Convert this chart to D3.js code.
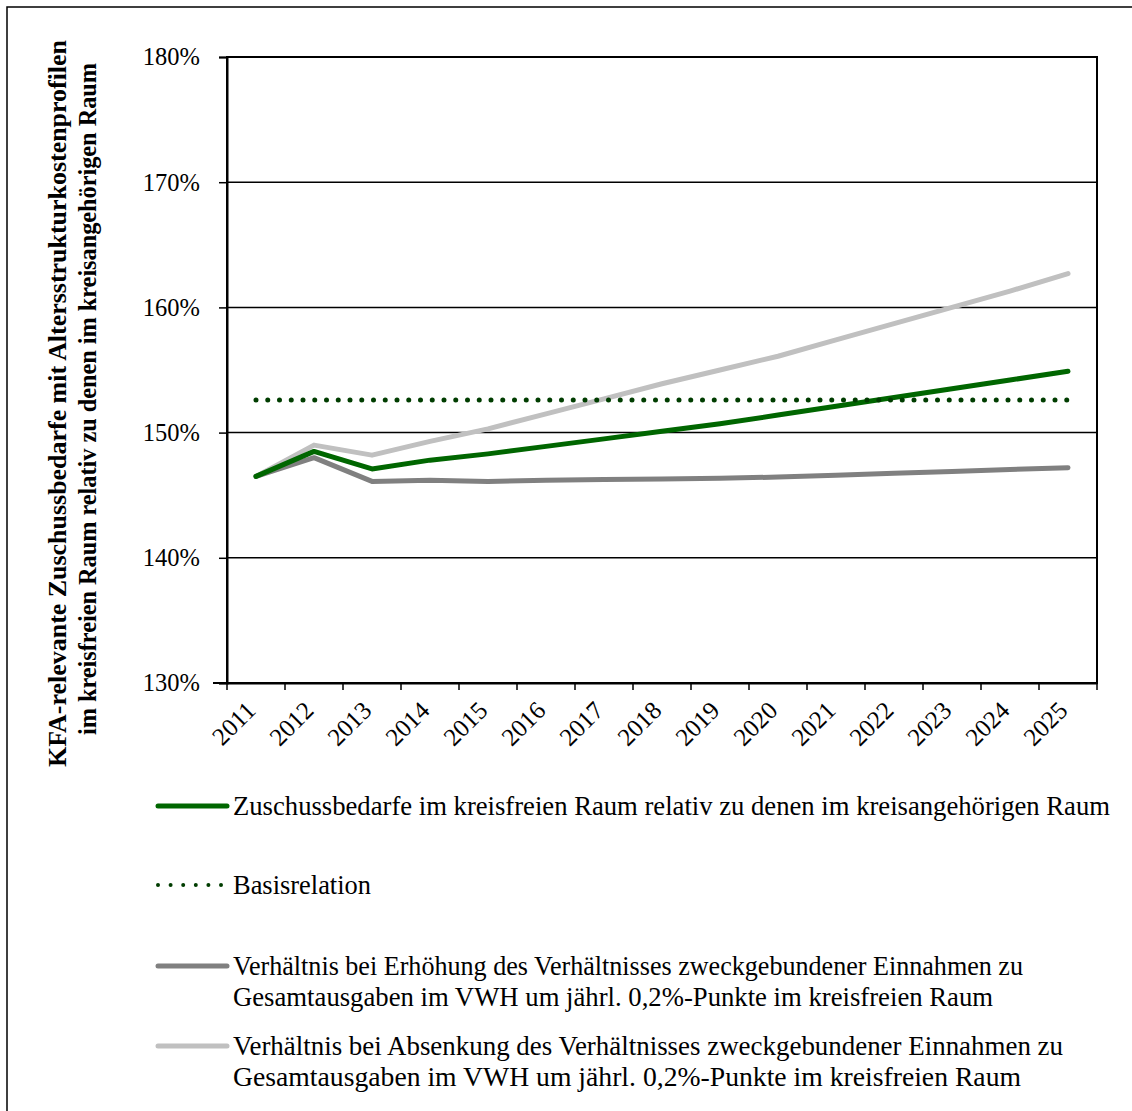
<!DOCTYPE html>
<html><head><meta charset="utf-8">
<script src="https://cdn.jsdelivr.net/npm/d3@7"></script>
<style>
body{margin:0;background:#fff;}
svg{display:block;}
text{font-family:"Liberation Serif","Times New Roman",serif;fill:#000;}
</style></head>
<body>
<svg id="c" width="1132" height="1111"></svg>
<script>
const years = ["2011","2012","2013","2014","2015","2016","2017","2018","2019","2020","2021","2022","2023","2024","2025"];
const zuschuss = [146.5,148.5,147.1,147.8,148.3,148.9,149.5,150.1,150.7,151.4,152.1,152.8,153.5,154.2,154.9];
const basis = [152.6,152.6,152.6,152.6,152.6,152.6,152.6,152.6,152.6,152.6,152.6,152.6,152.6,152.6,152.6];
const erhoehung = [146.5,148.0,146.1,146.2,146.1,146.2,146.25,146.3,146.35,146.45,146.6,146.75,146.9,147.05,147.2];
const absenkung = [146.5,149.0,148.2,149.3,150.3,151.5,152.7,153.9,155.0,156.1,157.4,158.7,160.0,161.3,162.7];
const yTicks = [130,140,150,160,170,180];
const yTitle = ["KFA-relevante Zuschussbedarfe mit Altersstrukturkostenprofilen","im kreisfreien Raum relativ zu denen im kreisangehörigen Raum"];
const legendLabels = [
  ["Zuschussbedarfe im kreisfreien Raum relativ zu denen im kreisangehörigen Raum"],
  ["Basisrelation"],
  ["Verhältnis bei Erhöhung des Verhältnisses zweckgebundener Einnahmen zu","Gesamtausgaben im VWH um jährl. 0,2%-Punkte im kreisfreien Raum"],
  ["Verhältnis bei Absenkung des Verhältnisses zweckgebundener Einnahmen zu","Gesamtausgaben im VWH um jährl. 0,2%-Punkte im kreisfreien Raum"]
];
const legendWidths = [[877],[138],[790,760],[830,788]];

const svg = d3.select("#c");
const L=227, R=1097, T=57, B=683;
const x = d3.scaleBand().domain(years).range([L,R]);
const y = d3.scaleLinear().domain([130,180]).range([B,T]);

// outer frame
svg.append("rect").attr("x",7).attr("y",7).attr("width",1140).attr("height",1120)
  .attr("fill","none").attr("stroke","#000").attr("stroke-width",1.5);

// gridlines
svg.append("g").selectAll("line").data(yTicks.filter(d=>d>130 && d<180)).join("line")
  .attr("x1",L).attr("x2",R).attr("y1",d=>y(d)).attr("y2",d=>y(d))
  .attr("stroke","#000").attr("stroke-width",1.5);

// plot border (top & right)
svg.append("rect").attr("x",L).attr("y",T).attr("width",R-L).attr("height",B-T)
  .attr("fill","none").attr("stroke","#000").attr("stroke-width",2);

// y axis
const yAxis = d3.axisLeft(y).tickValues(yTicks).tickFormat(d=>d+"%").tickSizeOuter(0).tickSize(8).tickPadding(19);
const gy = svg.append("g").attr("transform",`translate(${L},0)`).call(yAxis);
gy.select(".domain").attr("stroke-width",2);
gy.selectAll(".tick line").attr("stroke-width",1.5);
gy.selectAll("text").attr("font-size",24.5).attr("font-family","Liberation Serif");

// x axis
const xAxis = d3.axisBottom(x).tickSize(0).tickSizeOuter(0);
const gx = svg.append("g").attr("transform",`translate(0,${B})`).call(xAxis);
gx.select(".domain").attr("stroke-width",2);
gx.selectAll(".tick text").attr("font-size",25).attr("font-family","Liberation Serif")
  .attr("text-anchor","end").attr("dy",0).attr("y",0)
  .attr("transform","translate(1,29) rotate(-45)");
// boundary ticks
svg.append("g").selectAll("line").data(years.concat(["end"])).join("line")
  .attr("x1",(d,i)=>L+i*x.step()).attr("x2",(d,i)=>L+i*x.step())
  .attr("y1",B).attr("y2",B+7).attr("stroke","#000").attr("stroke-width",1.5);
svg.append("line").attr("x1",L-14).attr("x2",L).attr("y1",B).attr("y2",B).attr("stroke","#000").attr("stroke-width",2);

const cx = d => x(d)+x.bandwidth()/2;
const line = d3.line().x((d,i)=>cx(years[i])).y(d=>y(d));

const series = [
  {data:absenkung, color:"#c0c0c0", w:5, dash:null},
  {data:erhoehung, color:"#808080", w:5, dash:null},
  {data:zuschuss, color:"#006600", w:5, dash:null},
  {data:basis, color:"#003d00", w:5, dash:"0 11.75"}
];
series.forEach(s=>{
  svg.append("path").datum(s.data).attr("d",line).attr("fill","none")
    .attr("stroke",s.color).attr("stroke-width",s.w).attr("stroke-linecap","round")
    .attr("stroke-linejoin","round").attr("stroke-dasharray",s.dash);
});

// y title
const yt = svg.append("text").attr("font-weight","bold").attr("font-size",25).attr("text-anchor","middle");
yt.append("tspan").attr("transform",null);
yt.remove();
[[yTitle[0],66,403.5,727],[yTitle[1],96,399,672]].forEach(([txt,xx,yy,len])=>{
  svg.append("text").attr("transform",`translate(${xx},${yy}) rotate(-90)`)
    .attr("text-anchor","middle").attr("font-weight","bold").attr("font-size",25)
    .attr("textLength",len).attr("lengthAdjust","spacingAndGlyphs").text(txt);
});

// legend
const legY = [806,885,966,1046];
const legStyle = [series[2],series[3],series[1],series[0]];
legendLabels.forEach((lab,i)=>{
  const s = legStyle[i];
  svg.append("line").attr("x1",158).attr("x2",i===1?222:227).attr("y1",legY[i]).attr("y2",legY[i])
    .attr("stroke",s.color).attr("stroke-width",i===1?4:5).attr("stroke-linecap","round")
    .attr("stroke-dasharray",i===1?"0 12.6":null);
  lab.forEach((l,j)=>svg.append("text").attr("font-size",26.5).attr("x",233).attr("y",legY[i]+9+j*31)
    .attr("textLength",legendWidths[i][j]).attr("lengthAdjust","spacingAndGlyphs").text(l));
});
</script>
</body></html>
